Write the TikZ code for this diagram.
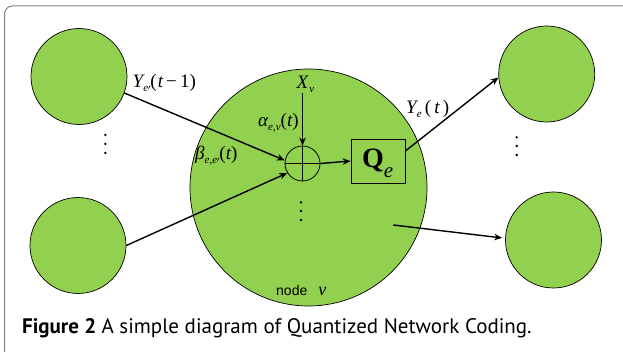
\documentclass[tikz,border=0pt]{standalone}
\usepackage{fontspec}
\setmainfont{Liberation Serif}
\newfontfamily\capfont{PT Sans}
\newfontfamily\labelsans{Liberation Sans}
\usetikzlibrary{arrows.meta}
\definecolor{leaf}{RGB}{146,208,80}
\definecolor{framegray}{RGB}{128,128,128}
% lowered subscript in text mode
\newcommand{\lo}[1]{\raisebox{-3.5pt}{\fontsize{11}{11}\selectfont\itshape #1}}
\newcommand{\pr}{\raisebox{1pt}{$\scriptstyle\prime$}}
\begin{document}
\begin{tikzpicture}[x=1pt,y=-1pt,
  peer/.style={circle, draw=black, line width=0.7pt, fill=leaf, minimum size=96pt, inner sep=0pt},
  flow/.style={line width=1.4pt, -{Stealth[length=8pt,width=6.5pt]}},
  lbl/.style={font=\fontsize{19}{19}\selectfont, inner sep=0pt, anchor=base west},
]
\useasboundingbox (0,0) rectangle (623,352);
% panel frame
\draw[framegray, line width=1pt, rounded corners=8pt] (4.5,360) -- (4.5,6) -- (630,6);

% neighbouring nodes and node v
\node[peer] (in1) at (79,76.5) {};
\node[peer] (in2) at (78,245.5) {};
\node[peer] (out1) at (546.7,74) {};
\node[peer] (out2) at (553.5,240) {};
\node[circle, draw=black, line width=0.7pt, fill=leaf, minimum size=237pt, inner sep=0pt] (v) at (308.5,187.5) {};

% adder
\node[circle, draw=black, line width=0.8pt, minimum size=35pt, inner sep=0pt] (sum) at (302.5,163.5) {};
\draw[line width=0.8pt] (sum.north) -- (sum.south) (sum.west) -- (sum.east);

% quantizer
\node[draw=black, line width=0.8pt, minimum width=54pt, minimum height=44pt, inner sep=0pt] (Q) at (378,161) {};
\node[inner sep=0pt, anchor=base west] (Qlbl) at (362,167.5)
  {\fontsize{28}{28}\selectfont\bfseries Q\raisebox{-10pt}{\fontsize{21}{21}\selectfont\mdseries\itshape e}};

% entry and exit points inside node v
\coordinate (xin) at (302.5,93.5);
\coordinate (vout) at (393.3,225);

% connectors
\draw[flow] (in1.-20) -- (sum.170);
\draw[flow] (in2.east) -- (sum.212);
\draw[flow] (xin) -- (sum.north);
\draw[flow] (sum.east) -- (Q.west);
\draw[flow] (Q.20) -- (out1.184);
\draw[flow, shorten >=3pt] (vout) -- (out2.178);

% labels
\node[lbl] (ylab) at (132.5,88) {{\itshape Y}\lo{e\pr}(\kern1pt{\itshape t}\,−\,1)};
\node[lbl] (xlab) at (296.5,89) {{\itshape X}\lo{\kern1pt v}};
\node[lbl] (alab) at (258,127) {{\itshape α}\lo{e,v}({\itshape t})};
\node[lbl] (blab) at (195,160) {{\itshape β}\lo{e,e\pr}({\itshape t})};
\node[lbl] (yelab) at (406,114) {{\itshape Y}\lo{e}\,(\,{\itshape t}\,)};
\node[inner sep=0pt, anchor=base west] (vname) at (276,295)
  {{\labelsans\fontsize{14}{14}\selectfont node}\hspace{11pt}{\fontsize{18}{18}\selectfont\itshape ν}};

% ellipsis dots
\foreach \yy in {135,144,153} \fill (105.3,\yy) circle (1.3pt);
\foreach \yy in {137.3,146,155} \fill (516.7,\yy) circle (1.3pt);
\foreach \yy in {202.3,211,220} \fill (301,\yy) circle (1.3pt);

% caption
\node[inner sep=0pt, anchor=base west] (cap) at (21.9,333.5)
  {\capfont\fontsize{21}{21}\selectfont\bfseries Figure 2 \mdseries A simple diagram of Quantized Network Coding.};
\end{tikzpicture}
\end{document}
